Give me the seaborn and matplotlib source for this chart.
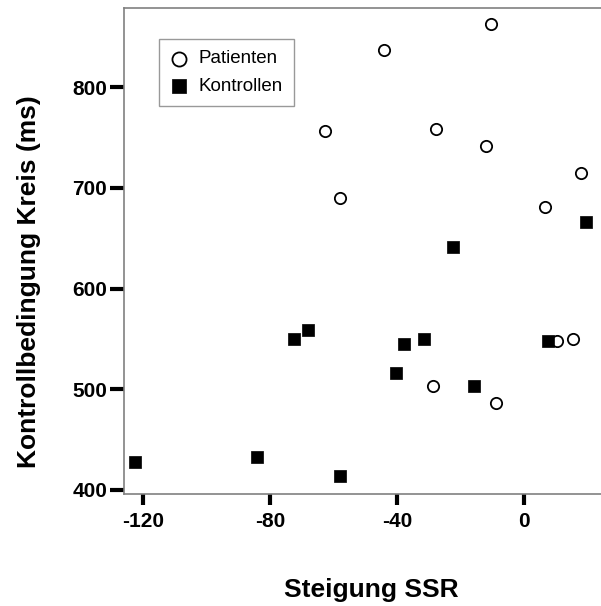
import matplotlib
matplotlib.use("Agg")
import matplotlib.pyplot as plt
import seaborn as sns
import pandas as pd

# Patienten (open circles)
pat_x = [-10.5, -44.1, -62.7, -27.6, -12.1, 17.9, -58.0, 6.5, 10.4, 15.4, -28.7, -8.9]
pat_y = [862.9, 836.7, 756.9, 758.9, 742.0, 715.2, 690.4, 681.0, 548.1, 550.1, 503.4, 486.8]

# Kontrollen (filled squares)
kon_x = [-122.5, -84.1, -58.0, -72.3, -68.0, -37.7, -31.4, -40.3, -15.7, 7.7, -22.3, 19.4]
kon_y = [427.9, 433.2, 414.3, 550.4, 559.3, 545.4, 550.4, 516.6, 503.4, 548.1, 641.7, 666.2]

x_ticks = [-120, -80, -40, 0]
y_ticks = [400, 500, 600, 700, 800]

sns.set_theme(style="white")
plt.rcParams['font.family'] = ['Liberation Sans', 'DejaVu Sans']
plt.rcParams['text.color'] = 'black'
plt.rcParams['axes.labelcolor'] = 'black'
plt.rcParams['xtick.color'] = 'black'
plt.rcParams['ytick.color'] = 'black'

df_p = pd.DataFrame({"x": pat_x, "y": pat_y})
df_k = pd.DataFrame({"x": kon_x, "y": kon_y})

fig = plt.figure(figsize=(6.01, 6.06), dpi=100)
ax = fig.add_axes([124/601, (606-494)/606, (601-124)/601, (494-8)/606])

sns.scatterplot(data=df_p, x="x", y="y", ax=ax, marker="o", s=66,
                facecolor="white", edgecolor="black", linewidth=1.3,
                label="Patienten", zorder=3)
sns.scatterplot(data=df_k, x="x", y="y", ax=ax, marker="s", s=70,
                color="black", edgecolor="black", linewidth=0.5,
                label="Kontrollen", zorder=3)

ax.set_xlim(-126, 24.25)
ax.set_ylim(396, 878.7)
ax.set_xticks(x_ticks)
ax.set_yticks(y_ticks)
ax.set_xticklabels([str(v) for v in x_ticks], fontsize=15, fontweight="bold")
ax.set_yticklabels([str(v) for v in y_ticks], fontsize=15, fontweight="bold")
ax.tick_params(axis="x", direction="out", length=8, width=3, color="black", pad=5, bottom=True)
ax.tick_params(axis="y", direction="out", length=10, width=3, color="black", pad=2, left=True)

for side in ["left", "bottom", "top"]:
    ax.spines[side].set_color("#808080")
    ax.spines[side].set_linewidth(1.2)
ax.spines["right"].set_visible(False)

ax.set_xlabel("Steigung SSR", fontsize=19, fontweight="bold")
ax.xaxis.set_label_coords(0.518, -0.172)
ax.xaxis.label.set_va("top")
ax.set_ylabel("Kontrollbedingung Kreis (ms)", fontsize=19, fontweight="bold")
ax.yaxis.set_label_coords(-0.2, 0.438)
ax.yaxis.label.set_va("center")

leg = ax.legend(loc="upper left", bbox_to_anchor=(0.073, 0.936), borderaxespad=0,
                frameon=True, fancybox=False, fontsize=13.5, handletextpad=0.5,
                borderpad=0.6, labelspacing=0.55, handlelength=1.0, markerscale=1.25)
leg.get_frame().set_edgecolor("#808080")
leg.get_frame().set_linewidth(1.0)

fig.savefig("out.png", dpi=100)
